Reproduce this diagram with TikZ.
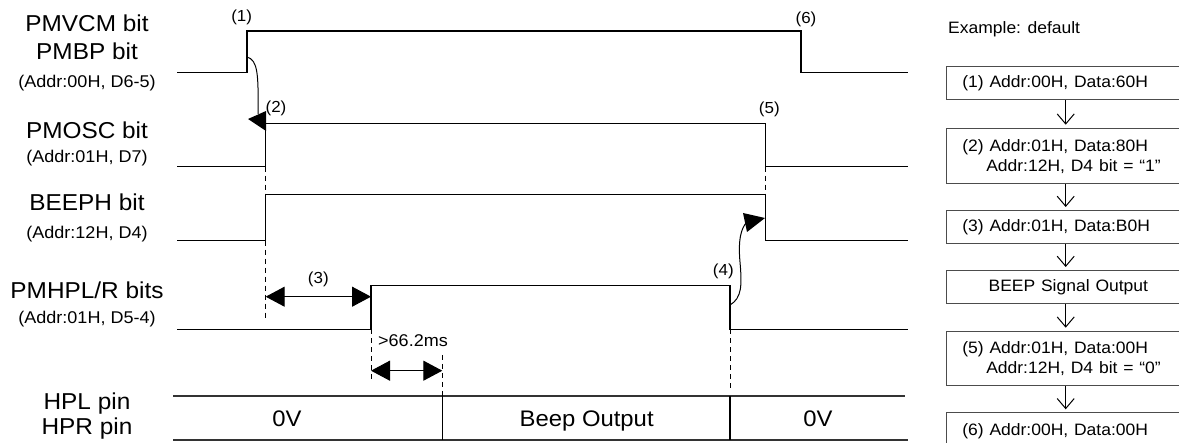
\documentclass[tikz,border=0pt]{standalone}
\usepackage{fontspec}
\setmainfont{Liberation Sans}
\usepackage{graphicx}
\usetikzlibrary{arrows.meta}
\newcommand\sx[1]{\scalebox{1.06}[1]{#1}}
\begin{document}
\begin{tikzpicture}[x=1pt,y=-1pt,
  sig/.style={line width=1.1pt, line join=miter},
  bus/.style={line width=1.3pt, draw=black!80},
  dsh/.style={line width=0.9pt, dash pattern=on 5pt off 4pt},
  big/.style={font=\fontsize{23}{26}\selectfont, inner sep=0pt, anchor=base},
  small/.style={font=\fontsize{17}{20}\selectfont, inner sep=0pt, anchor=base},
  num/.style={font=\fontsize{16}{19}\selectfont, inner sep=0pt},
  bustxt/.style={font=\fontsize{22.5}{26}\selectfont, inner sep=0pt, anchor=base},
  dbl/.style={line width=1.1pt, {Triangle[length=19pt,width=20pt]}-{Triangle[length=19pt,width=20pt]}},
  fbox/.style={draw=black!70, line width=1.2pt, minimum width=244pt, anchor=north west,
    inner xsep=16pt, inner ysep=0pt, text width=212pt, align=left,
    font=\fontsize{16.5}{20}\selectfont},
  farrow/.style={line width=1pt, shorten >=3pt, -{Straight Barb[length=10pt,width=17pt]}}
]
\useasboundingbox (0,0) rectangle (1179,443);
\clip (0,0) rectangle (1179,443);

% ---- left labels ----
\node[big]   (l1a) at (87,31.7)  {\sx{PMVCM bit}};
\node[big]   (l1b) at (87,59.3)  {\sx{PMBP bit}};
\node[small] (l1c) at (87,87.3)  {\sx{(Addr:00H, D6-5)}};
\node[big]   (l2a) at (87,138.3) {\sx{PMOSC bit}};
\node[small] (l2b) at (87,162.7) {\sx{(Addr:01H, D7)}};
\node[big]   (l3a) at (87,211)   {\sx{BEEPH bit}};
\node[small] (l3b) at (87,238.3) {\sx{(Addr:12H, D4)}};
\node[big]   (l4a) at (87,298.3) {\sx{PMHPL/R bits}};
\node[small] (l4b) at (87,324)   {\sx{(Addr:01H, D5-4)}};
\node[big]   (l5a) at (87,410)   {\sx{HPL pin}};
\node[big]   (l5b) at (87,435)   {\sx{HPR pin}};

% ---- signals ----
\draw[sig] (177,72.5) -- (247,72.5) -- (247,31) -- (801,31) -- (801,72.5) -- (908,72.5);
\draw[sig] (177,166.7) -- (265.7,166.7) -- (265.7,123.3) -- (765.7,123.3) -- (765.7,166.7) -- (908,166.7);
\draw[sig] (177,240.7) -- (265.7,240.7) -- (265.7,194.3) -- (765.7,194.3) -- (765.7,240.7) -- (908,240.7);
\draw[sig] (177,329.3) -- (371,329.3) -- (371,285.7) -- (730,285.7) -- (730,329.3) -- (908,329.3);

% ---- bus ----
\draw[bus] (173,396) -- (905,396);
\draw[bus] (173,440) -- (908,440);
\draw[sig] (442.3,396) -- (442.3,440);
\draw[sig] (730,396) -- (730,440);
\node[bustxt] (v1) at (287,426.7) {\sx{0V}};
\node[bustxt] (bo) at (586.7,426.7) {\sx{Beep Output}};
\node[bustxt] (v2) at (818,426.7) {\sx{0V}};

% ---- dashed guides ----
\draw[dsh] (265.7,166.7) -- (265.7,194.3);
\draw[dsh] (265.7,240.7) -- (265.7,320);
\draw[dsh] (765.7,166.7) -- (765.7,194.3);
\draw[dsh] (371,329.3) -- (371,382);
\draw[dsh] (442.3,355) -- (442.3,396);
\draw[dsh] (730,329.3) -- (730,392);

% ---- event labels ----
\node[num] (n1) at (241.7,17.5) {\sx{(1)}};
\node[num] (n2) at (276,108) {\sx{(2)}};
\node[num] (n3) at (318.3,279) {\sx{(3)}};
\node[num] (n4) at (723.3,271.7) {\sx{(4)}};
\node[num] (n5) at (769.3,109) {\sx{(5)}};
\node[num] (n6) at (806,19.5) {\sx{(6)}};
\node[small, anchor=base west] (ms) at (378,347) {\sx{>66.2ms}};

% ---- double arrows ----
\draw[dbl] (265.7,296.7) -- (371,296.7);
\draw[dbl] (371,370.7) -- (442.3,370.7);

% ---- curved arrows ----
\draw[line width=1pt] (247,57) .. controls (258,60) and (258.5,75) .. (258,114);
\fill (248,119) -- (266,111) -- (266,131) -- cycle;
\draw[line width=1pt] (730,305) .. controls (742,298) and (742,285) .. (740,262)
   .. controls (738,240) and (741,228) .. (747,222);
\fill (743,213) -- (765,218) -- (747,232) -- cycle;

% ---- right flow ----
\node[font=\fontsize{16.5}{20}\selectfont, inner sep=0pt, anchor=base west] (ex) at (948,34) {\sx{Example: default}};
\coordinate (ax) at (1065.7,0);
\node[fbox, minimum height=33.3pt] (b1) at (945.7,65.7) {\sx{(1) Addr:00H, Data:60H}};
\node[fbox, minimum height=55.6pt] (b2) at (945.7,127.7) {\sx{(2) Addr:01H, Data:80H}\\\hspace*{24pt}\sx{Addr:12H, D4 bit = “1”}};
\node[fbox, minimum height=32.7pt] (b3) at (945.7,210) {\sx{(3) Addr:01H, Data:B0H}};
\node[fbox, minimum height=32.7pt, align=center] (b4) at (945.7,270) {\sx{BEEP Signal Output}};
\node[fbox, minimum height=54.3pt] (b5) at (945.7,330.7) {\sx{(5) Addr:01H, Data:00H}\\\hspace*{24pt}\sx{Addr:12H, D4 bit = “0”}};
\node[fbox, minimum height=36pt] (b6) at (945.7,412.3) {\sx{(6) Addr:00H, Data:00H}};
\draw[farrow] (b1.south -| ax) -- (b2.north -| ax);
\draw[farrow] (b2.south -| ax) -- (b3.north -| ax);
\draw[farrow] (b3.south -| ax) -- (b4.north -| ax);
\draw[farrow] (b4.south -| ax) -- (b5.north -| ax);
\draw[farrow] (b5.south -| ax) -- (b6.north -| ax);
\end{tikzpicture}
\end{document}
